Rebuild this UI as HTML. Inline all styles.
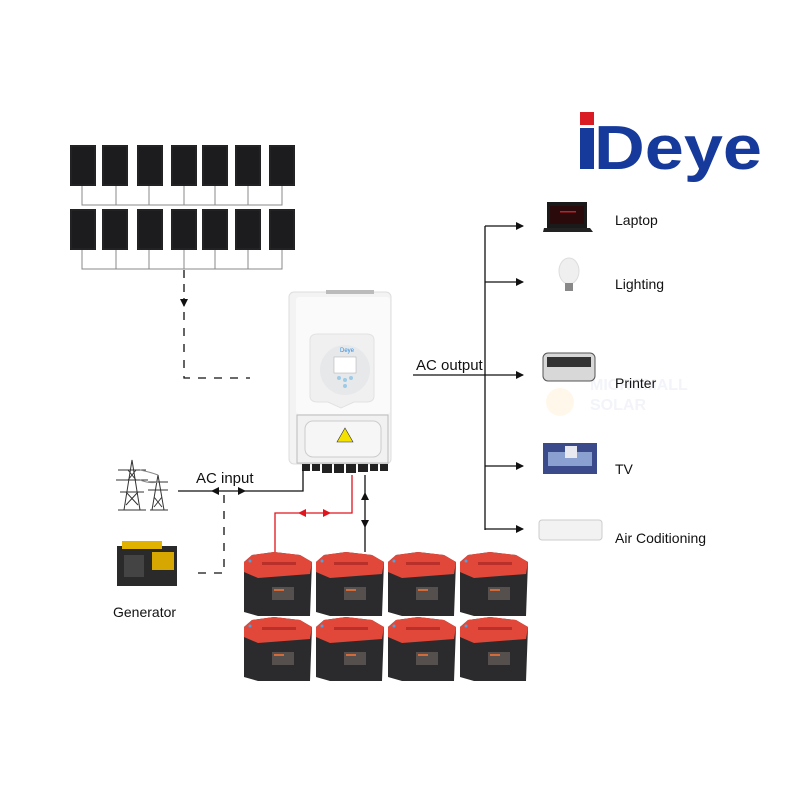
<!DOCTYPE html>
<html><head><meta charset="utf-8"><style>
html,body{margin:0;padding:0;background:#fff;}
svg{display:block;}
text{font-family:"Liberation Sans",sans-serif;}
</style></head><body>
<svg width="800" height="800" viewBox="0 0 800 800" xmlns="http://www.w3.org/2000/svg">
<defs>
<marker id="ah" markerWidth="8" markerHeight="8" refX="7" refY="4" orient="auto" markerUnits="userSpaceOnUse"><path d="M0,0 L8,4 L0,8 Z" fill="#111"/></marker>
<marker id="ahr" markerWidth="8" markerHeight="8" refX="7" refY="4" orient="auto" markerUnits="userSpaceOnUse"><path d="M0,0 L8,4 L0,8 Z" fill="#e0141c"/></marker>
<g id="panel"><rect x="0" y="0" width="26" height="41" fill="#1c1c1e"/><rect x="1" y="1" width="24" height="39" fill="none" stroke="#333" stroke-width="0.6"/></g>
<g id="bat">
<polygon points="0,10 8,3 30,0 56,3 68,10 66,64 14,64 0,60" fill="#2b2b2d"/>
<polygon points="0,10 8,3 30,0 56,3 68,10 66,22 14,26 0,20" fill="#e2483a"/>
<rect x="18" y="10" width="34" height="3" fill="#b9302a"/>
<circle cx="6" cy="9" r="1.5" fill="#4aa3e0"/>
<rect x="28" y="35" width="22" height="13" fill="#55504d"/>
<rect x="30" y="37" width="10" height="2" fill="#d26a3a"/>
</g>
</defs>

<!-- watermark -->
<circle cx="560" cy="402" r="14" fill="#fff8ea"/>
<text x="590" y="390" font-size="16" font-weight="bold" fill="#f3f4f9">MICROMALL</text>
<text x="590" y="410" font-size="16" font-weight="bold" fill="#f3f4f9">SOLAR</text>

<!-- Deye logo -->
<rect x="580" y="112" width="14" height="13" fill="#d91c24"/>
<rect x="580" y="128" width="14" height="41" fill="#163a9b"/>
<text x="594" y="169" font-size="62" font-weight="bold" fill="#163a9b" textLength="168" lengthAdjust="spacingAndGlyphs">Deye</text>

<!-- Solar panels -->
<g>
<use href="#panel" x="70" y="145"/><use href="#panel" x="102" y="145"/><use href="#panel" x="137" y="145"/><use href="#panel" x="171" y="145"/><use href="#panel" x="202" y="145"/><use href="#panel" x="235" y="145"/><use href="#panel" x="269" y="145"/>
<use href="#panel" x="70" y="209"/><use href="#panel" x="102" y="209"/><use href="#panel" x="137" y="209"/><use href="#panel" x="171" y="209"/><use href="#panel" x="202" y="209"/><use href="#panel" x="235" y="209"/><use href="#panel" x="269" y="209"/>
</g>
<g stroke="#888" stroke-width="1" fill="none">
<path d="M82,186V205H282V186M116,186V205M149,186V205M184,186V205M215,186V205M248,186V205"/>
<path d="M82,250V269H282V250M116,250V269M149,250V269M184,250V269M215,250V269M248,250V269"/>
</g>
<path d="M184,270V306" stroke="#111" stroke-width="1.3" stroke-dasharray="8,6" fill="none" marker-end="url(#ah)"/>
<path d="M184,312V378H250" stroke="#111" stroke-width="1.3" stroke-dasharray="8,8" fill="none"/>

<!-- Inverter -->
<rect x="289" y="292" width="102" height="172" rx="5" fill="#f3f3f3" stroke="#ddd"/>
<rect x="296" y="297" width="94" height="117" rx="3" fill="#fafafa"/>
<rect x="326" y="290" width="48" height="4" fill="#bbb"/>
<path d="M310,340 Q310,334 318,334 H366 Q374,334 374,340 V396 Q374,402 366,402 H354 L341,408 L328,402 H318 Q310,402 310,396 Z" fill="#f0f0f0" stroke="#e2e2e2"/>
<ellipse cx="345" cy="370" rx="25" ry="25" fill="#e6e8ea"/>
<rect x="334" y="357" width="22" height="16" fill="#fff" stroke="#aaa" stroke-width="0.5"/>
<text x="340" y="352" font-size="6" fill="#2d8de0">Deye</text>
<circle cx="339" cy="378" r="2" fill="#9ccbe8"/><circle cx="345" cy="380" r="2" fill="#9ccbe8"/><circle cx="351" cy="378" r="2" fill="#9ccbe8"/><circle cx="345" cy="386" r="2" fill="#9ccbe8"/>
<rect x="297" y="415" width="91" height="48" fill="#f1f1f1" stroke="#bbb"/>
<rect x="305" y="421" width="76" height="36" rx="8" fill="#f6f6f6" stroke="#ccc"/>
<polygon points="345,428 353,442 337,442" fill="#f5e100" stroke="#333" stroke-width="0.6"/>
<g fill="#222">
<rect x="302" y="464" width="8" height="7"/><rect x="312" y="464" width="8" height="7"/><rect x="322" y="464" width="10" height="9"/><rect x="334" y="464" width="10" height="9"/><rect x="346" y="464" width="10" height="9"/><rect x="358" y="464" width="10" height="8"/><rect x="370" y="464" width="8" height="7"/><rect x="380" y="464" width="8" height="7"/>
</g>

<!-- AC input -->
<text x="196" y="483" font-size="15" fill="#111">AC input</text>
<path d="M178,491H303V470" stroke="#111" stroke-width="1.3" fill="none"/>
<path d="M224,491H212" stroke="#111" stroke-width="1" marker-end="url(#ah)"/>
<path d="M230,491H245" stroke="#111" stroke-width="1" marker-end="url(#ah)"/>
<path d="M224,495V573H190" stroke="#111" stroke-width="1.3" stroke-dasharray="8,8" fill="none"/>

<!-- Towers -->
<g stroke="#333" stroke-width="1" fill="none">
<path d="M124,510L132,460L140,510M118,470H146M116,480H148M120,492H144M128,470L136,480M136,470L128,480M126,492L138,505M138,492L126,505"/>
<path d="M152,510L158,475L164,510M148,482H168M148,490H168M154,497L162,507M162,497L154,507"/>
<path d="M140,470Q150,472 158,475M140,480Q150,484 158,482" stroke="#888"/>
<path d="M118,510H146M150,510H168"/>
</g>

<!-- Generator -->
<rect x="117" y="546" width="60" height="40" fill="#2a2a2a"/>
<rect x="122" y="541" width="40" height="8" fill="#e2b200"/>
<rect x="152" y="552" width="22" height="18" fill="#d6a700"/>
<rect x="124" y="555" width="20" height="22" fill="#444"/>
<text x="113" y="617" font-size="14" fill="#111">Generator</text>

<!-- Battery wiring -->
<path d="M352,475V513H275V552" stroke="#e0141c" stroke-width="1.3" fill="none"/>
<path d="M312,513H299" stroke="#e0141c" stroke-width="1" marker-end="url(#ahr)"/>
<path d="M316,513H330" stroke="#e0141c" stroke-width="1" marker-end="url(#ahr)"/>
<path d="M365,475V552" stroke="#111" stroke-width="1.3" fill="none"/>
<path d="M365,510V493" stroke="#111" stroke-width="1" marker-end="url(#ah)"/>
<path d="M365,512V527" stroke="#111" stroke-width="1" marker-end="url(#ah)"/>

<!-- Batteries -->
<use href="#bat" x="244" y="552"/><use href="#bat" x="316" y="552"/><use href="#bat" x="388" y="552"/><use href="#bat" x="460" y="552"/>
<use href="#bat" x="244" y="617"/><use href="#bat" x="316" y="617"/><use href="#bat" x="388" y="617"/><use href="#bat" x="460" y="617"/>

<!-- AC output -->
<text x="416" y="370" font-size="15" fill="#111">AC output</text>
<path d="M413,375H485" stroke="#111" stroke-width="1.3"/>
<path d="M485,226V530" stroke="#111" stroke-width="1.3"/>
<g stroke="#111" stroke-width="1.3">
<path d="M485,226H523" marker-end="url(#ah)"/>
<path d="M485,282H523" marker-end="url(#ah)"/>
<path d="M485,375H523" marker-end="url(#ah)"/>
<path d="M485,466H523" marker-end="url(#ah)"/>
<path d="M485,529H523" marker-end="url(#ah)"/>
</g>

<!-- Devices -->
<rect x="547" y="202" width="40" height="26" fill="#1a1a1a"/>
<rect x="550" y="206" width="34" height="18" fill="#2a0a0a"/>
<rect x="560" y="211" width="16" height="1.5" fill="#c0202a"/>
<polygon points="544,228 590,228 593,232 543,232" fill="#222"/>
<ellipse cx="569" cy="271" rx="10" ry="13" fill="#efefef" stroke="#ddd"/>
<rect x="565" y="283" width="8" height="8" fill="#888"/>
<rect x="543" y="353" width="52" height="28" rx="5" fill="#d8d8d8" stroke="#555"/>
<rect x="547" y="357" width="44" height="10" fill="#333"/>
<rect x="543" y="443" width="54" height="31" fill="#3a4a8a"/>
<rect x="548" y="452" width="44" height="14" fill="#8aa0d0"/>
<rect x="565" y="446" width="12" height="12" fill="#e8e8f0"/>
<rect x="539" y="520" width="63" height="20" rx="3" fill="#f2f2f2" stroke="#ccc"/>
<text x="615" y="225" font-size="14" fill="#111">Laptop</text>
<text x="615" y="289" font-size="14" fill="#111">Lighting</text>
<text x="615" y="388" font-size="14" fill="#111">Printer</text>
<text x="615" y="474" font-size="14" fill="#111">TV</text>
<text x="615" y="543" font-size="14" fill="#111">Air Coditioning</text>
</svg>
</body></html>
